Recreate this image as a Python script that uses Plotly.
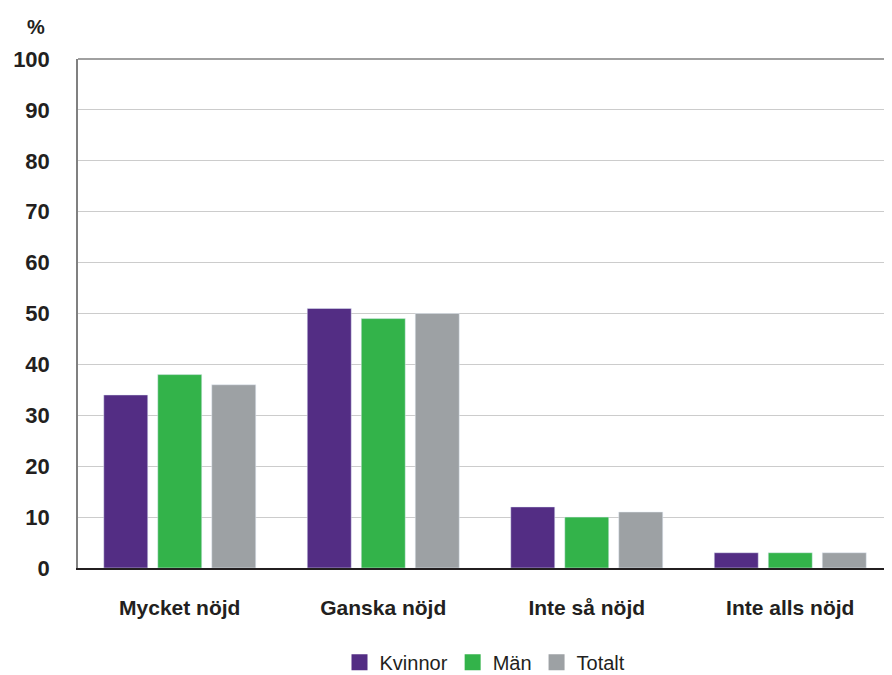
import plotly.graph_objects as go

categories = ["Mycket nöjd", "Ganska nöjd", "Inte så nöjd", "Inte alls nöjd"]
kvinnor = [34, 51, 12, 3]
man = [38, 49, 10, 3]
totalt = [36, 50, 11, 3]
y_ticks = [0, 10, 20, 30, 40, 50, 60, 70, 80, 90, 100]

series = [("Kvinnor", kvinnor, "#532D84"), ("Män", man, "#33B34A"), ("Totalt", totalt, "#9DA1A4")]

font_main = "Liberation Sans, Arial"

fig = go.Figure()
for name, vals, col in series:
    fig.add_trace(go.Bar(x=categories, y=vals, name=name, marker_color=col, showlegend=False))
# legend entries with bigger square swatches
for name, vals, col in series:
    fig.add_trace(go.Scatter(x=[None], y=[None], mode="markers", name=name,
                             marker=dict(symbol="square", size=21, color=col)))

# page body has an 8px margin, so the figure is a bit smaller and shifted
fig.update_layout(
    width=884, height=667,
    margin=dict(l=70, r=0, t=51, b=107, autoexpand=False),
    plot_bgcolor="white", paper_bgcolor="white",
    barmode="group", bargap=0.204, bargroupgap=0.185,
    font=dict(family=font_main, color="#231F20"),
    legend=dict(orientation="h", x=0.5, xanchor="center", y=-0.185, yanchor="middle",
                font=dict(size=20, family=font_main, color="#231F20"),
                itemsizing="trace", traceorder="normal"),
    annotations=[dict(text="%", x=-0.051, y=1.063, xref="paper", yref="paper",
                      xanchor="center", yanchor="middle", showarrow=False,
                      font=dict(size=20, family=font_main, weight="bold"))],
    shapes=[dict(type="line", xref="paper", yref="paper", x0=0, x1=1, y0=1, y1=1,
                 line=dict(color="#808080", width=1.5))],
)
fig.update_yaxes(range=[0, 100], tickvals=y_ticks, showgrid=True, gridcolor="#CCCCCC",
                 showline=True, linecolor="#808080", linewidth=1.5, zeroline=False,
                 automargin=False, ticklabelstandoff=22,
                 tickfont=dict(size=22, family=font_main, weight="bold"))
fig.update_xaxes(showline=True, linecolor="#231F20", linewidth=2, automargin=False,
                 ticklabelstandoff=20,
                 tickfont=dict(size=21, family=font_main, weight="bold"))

fig.write_html("out.html")
